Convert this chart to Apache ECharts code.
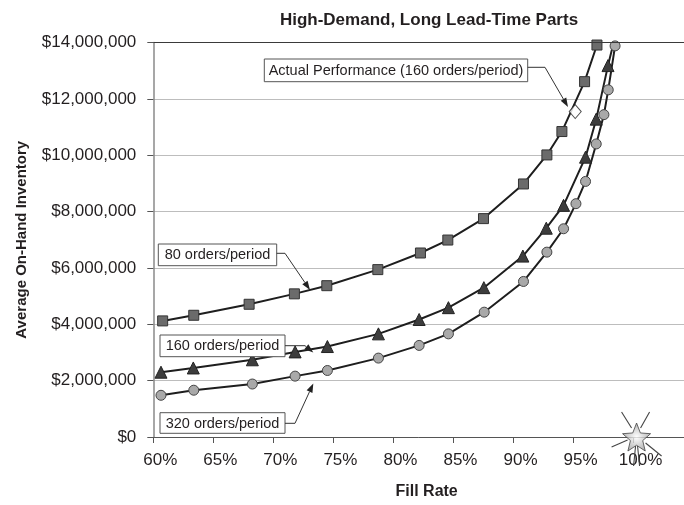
<!DOCTYPE html>
<html>
<head>
<meta charset="utf-8">
<script src="https://cdn.jsdelivr.net/npm/echarts@6/dist/echarts.min.js"></script>
<style>
html,body{margin:0;padding:0;background:#fff;}
#chart{width:684px;height:505px;}
</style>
</head>
<body>
<div id="chart"></div>
<script>
// ---- Data (fill rate in %, inventory in $ millions) ----
const fillRate80  = [60.78, 63.37, 67.98, 71.75, 74.45, 78.7, 82.25, 84.53, 87.5, 90.83, 92.78, 94.03, 95.92, 96.95];
const inv80       = [4.12, 4.32, 4.71, 5.08, 5.37, 5.94, 6.53, 6.99, 7.75, 8.98, 10.01, 10.84, 12.61, 13.91];
const fillRate160 = [60.64, 63.33, 68.25, 71.81, 74.5, 78.75, 82.14, 84.58, 87.53, 90.78, 92.73, 94.17, 96.0, 96.89, 97.87, 98.4];
const inv160      = [2.30, 2.45, 2.74, 3.02, 3.21, 3.66, 4.17, 4.59, 5.30, 6.42, 7.41, 8.22, 9.93, 11.28, 13.18, 14.1];
const fillRate320 = [60.64, 63.37, 68.25, 71.81, 74.5, 78.75, 82.14, 84.58, 87.56, 90.83, 92.78, 94.17, 95.2, 96.0, 96.89, 97.53, 97.89, 98.46];
const inv320      = [1.48, 1.66, 1.88, 2.16, 2.36, 2.80, 3.25, 3.66, 4.43, 5.52, 6.56, 7.39, 8.28, 9.07, 10.40, 11.44, 12.32, 13.88];
const actualPerf  = [95.14, 11.55];
const targetStar  = [100, 0];
const seriesNames = ['80 orders/period', '160 orders/period', '320 orders/period'];
const actualLabel = 'Actual Performance (160 orders/period)';
const titleText = 'High-Demand, Long Lead-Time Parts';
const xTitle = 'Fill Rate';
const yTitle = 'Average On-Hand Inventory';

function pairs(xs, ys) { return xs.map((x, i) => [x, ys[i] * 1e6]); }
function money(v) { return '$' + String(Math.round(v)).replace(/\B(?=(\d{3})+(?!\d))/g, ','); }

// star path
function starPath() {
  let pts = [];
  for (let i = 0; i < 10; i++) {
    const r = i % 2 === 0 ? 50 : 22;
    const a = -Math.PI / 2 + i * Math.PI / 5;
    pts.push((50 + r * Math.cos(a)).toFixed(2) + ',' + (50 + r * Math.sin(a)).toFixed(2));
  }
  return 'path://M' + pts.join('L') + 'Z';
}

const FONT = '"Liberation Sans", Arial, Helvetica, sans-serif';
const chart = echarts.init(document.getElementById('chart'));

const lineCommon = {
  type: 'line', showSymbol: true, clip: true,
  lineStyle: { color: '#1e1e1e', width: 2 },
  itemStyle: { borderWidth: 1 }
};

chart.setOption({
  animation: false,
  backgroundColor: '#fff',
  textStyle: { fontFamily: FONT },
  title: {
    text: titleText, left: 424, top: 7, textAlign: 'center',
    textStyle: { fontFamily: FONT, fontWeight: 'bold', fontSize: 17, color: '#231f20' }
  },
  grid: { left: 153.3, right: 0, top: 42.5, bottom: 60.7, containLabel: false },
  xAxis: {
    type: 'value', min: 60, max: 104.2, interval: 5,
    name: xTitle, nameLocation: 'middle', nameGap: 47,
    nameTextStyle: { fontFamily: FONT, fontWeight: 'bold', fontSize: 16, color: '#231f20', padding: [0, 0, 0, 16] },
    axisLine: { lineStyle: { color: '#555', width: 1 } },
    axisTick: { show: true, length: 6, lineStyle: { color: '#555' } },
    splitLine: { show: false },
    axisLabel: {
      fontFamily: FONT, fontSize: 17, color: '#231f20', margin: 15, padding: [0, 0, 0, 14],
      showMaxLabel: false,
      formatter: v => (v % 5 === 0 ? v + '%' : '')
    }
  },
  yAxis: {
    type: 'value', min: 0, max: 14000000, interval: 2000000,
    name: yTitle, nameLocation: 'middle', nameGap: 124, nameRotate: 90,
    nameTextStyle: { fontFamily: FONT, fontWeight: 'bold', fontSize: 15, color: '#231f20' },
    axisLine: { show: true, lineStyle: { color: '#8a8a8a', width: 1.5 } },
    axisTick: { show: true, length: 6, lineStyle: { color: '#555' } },
    splitLine: { show: true, lineStyle: { color: '#bdbdbd', width: 1.2 } },
    axisLabel: { fontFamily: FONT, fontSize: 17, color: '#231f20', margin: 17, formatter: money }
  },
  series: [
    Object.assign({}, lineCommon, {
      name: seriesNames[0], data: pairs(fillRate80, inv80),
      symbol: 'rect', symbolSize: 10,
      itemStyle: { color: '#6b6b6b', borderColor: '#333', borderWidth: 1 },
      markLine: {
        silent: true, symbol: 'none', label: { show: false },
        lineStyle: { color: '#3a3a3a', width: 1.2, type: 'solid' },
        data: [{ yAxis: 14000000 }]
      }
    }),
    Object.assign({}, lineCommon, {
      name: seriesNames[1], data: pairs(fillRate160, inv160),
      symbol: 'triangle', symbolSize: 12,
      itemStyle: { color: '#3d3d3d', borderColor: '#222', borderWidth: 1 }
    }),
    Object.assign({}, lineCommon, {
      name: seriesNames[2], data: pairs(fillRate320, inv320),
      symbol: 'circle', symbolSize: 10,
      itemStyle: { color: '#a9a9a9', borderColor: '#444', borderWidth: 1 }
    }),
    {
      name: actualLabel, type: 'scatter', data: [[actualPerf[0], actualPerf[1] * 1e6]],
      symbol: 'diamond', symbolSize: [12, 14], z: 4,
      itemStyle: { color: '#fff', borderColor: '#222', borderWidth: 1 }
    },
    {
      name: 'target', type: 'scatter', data: [targetStar], clip: false,
      symbol: starPath(), symbolSize: 28, symbolOffset: [3, 0], z: 6,
      itemStyle: {
        color: { type: 'radial', x: 0.5, y: 0.5, r: 0.6, colorStops: [{ offset: 0, color: '#ffffff' }, { offset: 1, color: '#8f8f8f' }] },
        borderColor: '#444', borderWidth: 1
      }
    }
  ]
});

// ---- annotations (boxes + arrows) ----
function box(x, y, w, h, text) {
  return [
    { type: 'rect', shape: { x: x, y: y, width: w, height: h }, style: { fill: '#fff', stroke: '#555', lineWidth: 1 }, z: 10 },
    { type: 'text', x: x + w / 2, y: y + h / 2 + 0.5, style: { text: text, fontFamily: FONT, fontSize: 14.5, fill: '#231f20', align: 'center', verticalAlign: 'middle' }, z: 11 }
  ];
}
function arrow(points) {
  const n = points.length;
  const [x1, y1] = points[n - 2], [x2, y2] = points[n - 1];
  const a = Math.atan2(y2 - y1, x2 - x1);
  const L = 9, W = 3.2;
  const bx = x2 - L * Math.cos(a), by = y2 - L * Math.sin(a);
  const head = [[x2, y2], [bx + W * Math.sin(a), by - W * Math.cos(a)], [bx - W * Math.sin(a), by + W * Math.cos(a)]];
  const pts = points.slice(0, n - 1).concat([[bx, by]]);
  return [
    { type: 'polyline', shape: { points: pts }, style: { stroke: '#333', lineWidth: 1, fill: null }, z: 10 },
    { type: 'polygon', shape: { points: head }, style: { fill: '#222' }, z: 10 }
  ];
}

const sp = chart.convertToPixel({ gridIndex: 0 }, targetStar);
const cx = sp[0] + 3, cy = sp[1] - 1;
const rays = [[-15, -24, -5, -8], [13, -24, 4, -8], [-25, 11, -9, 4], [25, 20, 9, 7], [-3, 30, -1, 10], [3, 30, 1, 10]].map(r => ({
  type: 'line', shape: { x1: cx + r[2], y1: cy + r[3], x2: cx + r[0], y2: cy + r[1] },
  style: { stroke: '#444', lineWidth: 1.1 }, z: 1
}));

const elements = []
  .concat(box(264.3, 59, 263.4, 22.7, actualLabel))
  .concat(arrow([[527.7, 67.3], [545, 67.3], [568, 107]]))
  .concat(box(158.3, 244, 118.4, 21.7, seriesNames[0]))
  .concat(arrow([[276.7, 253.3], [285, 253.3], [310, 290]]))
  .concat(box(160, 335, 125, 21.7, seriesNames[1]))
  .concat(arrow([[285, 345.7], [305, 345.7], [313.3, 352.5]]))
  .concat(box(160, 412.7, 125, 20.6, seriesNames[2]))
  .concat(arrow([[285, 423.3], [295, 423.3], [313.3, 383.5]]))
  .concat(rays);

chart.setOption({ graphic: { elements: elements } });
</script>
</body>
</html>
